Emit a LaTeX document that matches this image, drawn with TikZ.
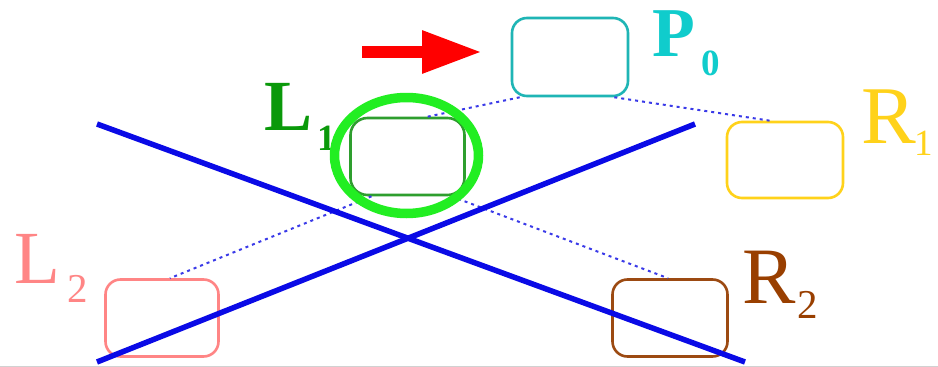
\documentclass[tikz,border=0pt]{standalone}
\usepackage{fontspec}
\setmainfont{Liberation Serif}
\usetikzlibrary{arrows.meta}
\definecolor{pbox}{HTML}{1FB5B5}
\definecolor{ptxt}{HTML}{10CCCC}
\definecolor{lonebox}{HTML}{2E9E2E}
\definecolor{lonetxt}{HTML}{0A990A}
\definecolor{ring}{HTML}{22EE22}
\definecolor{rone}{HTML}{FFD21A}
\definecolor{ltwo}{HTML}{FF8585}
\definecolor{rtwobox}{HTML}{9C4A12}
\definecolor{rtwotxt}{HTML}{993F00}
\definecolor{cross}{HTML}{0A0AE6}
\definecolor{link}{HTML}{3A3AE8}
\definecolor{arrowred}{HTML}{FF0000}
\newcommand\fs[1]{\fontsize{#1}{#1}\selectfont}
\begin{document}
\begin{tikzpicture}[x=1pt,y=-1pt,
  treebox/.style={draw=#1, line width=2.6pt, rounded corners=15pt, inner sep=0pt},
  lbl/.style={inner sep=0pt, anchor=base west},
  treelink/.style={draw=link, line width=2pt, dash pattern=on 3pt off 4pt},
  crossline/.style={draw=cross, line width=5.5pt}]
\useasboundingbox (0,0) rectangle (938,367);
\fill[white] (0,0) rectangle (938,367);
\draw[black!18, line width=1pt] (0,366) -- (938,366);

% tree nodes
\node[treebox=pbox, minimum width=116pt, minimum height=78pt] (p0) at (570,57) {};
\node[treebox=lonebox, minimum width=114pt, minimum height=77pt, rounded corners=17pt] (l1) at (407.5,156.5) {};
\node[treebox=rone, minimum width=116pt, minimum height=76pt] (r1) at (785,160) {};
\node[treebox=ltwo, minimum width=113pt, minimum height=77pt] (l2) at (162,318) {};
\node[treebox=rtwobox, minimum width=115pt, minimum height=77pt] (r2) at (670,318) {};

% links between parent and children
\draw[treelink] ([xshift=9pt]p0.south west) -- ([xshift=20pt]l1.north);
\draw[treelink] ([xshift=-15pt]p0.south east) -- ([xshift=-15pt]r1.north);
\draw[treelink] ([xshift=-36pt]l1.south) -- ([xshift=8pt]l2.north);
\draw[treelink] ([xshift=44pt]l1.south) -- ([xshift=-2pt]r2.north);

% labels: letter and index
\node[lbl, text=ptxt] (p0sym) at (652,56) {\fs{70}\bfseries P};
\node[lbl, text=ptxt] (p0idx) at (701,75) {\fs{37}\bfseries 0};
\node[lbl, text=lonetxt] (l1sym) at (264,130) {\fs{72}\bfseries L};
\node[lbl, text=lonetxt] (l1idx) at (317,150) {\fs{37}\bfseries 1};
\node[lbl, text=ltwo] (l2sym) at (14,283) {\fs{75}L};
\node[lbl, text=ltwo] (l2idx) at (67,302) {\fs{41}2};
\node[lbl, text=rone] (r1sym) at (861,143) {\fs{82}R};
\node[lbl, text=rone] (r1idx) at (914,155) {\fs{37}1};
\node[lbl, text=rtwotxt] (r2sym) at (742,303) {\fs{80}R};
\node[lbl, text=rtwotxt] (r2idx) at (797,318) {\fs{41}2};

% highlight ring on the current node
\draw[ring, line width=9.5pt] (406.5,155.5) ellipse [x radius=72pt, y radius=58pt];

% red pointer
\coordinate (ptail) at (362,52);
\coordinate (phead) at (482,52);
\draw[arrowred, line width=12pt, -{Triangle[length=60pt, width=40pt]}] (ptail) -- (phead);

% crossing-out lines
\coordinate (c1a) at (97,124);
\coordinate (c1b) at (745,362);
\coordinate (c2a) at (97,362);
\coordinate (c2b) at (695,124);
\draw[crossline] (c1a) -- (c1b);
\draw[crossline] (c2a) -- (c2b);
\end{tikzpicture}
\end{document}
